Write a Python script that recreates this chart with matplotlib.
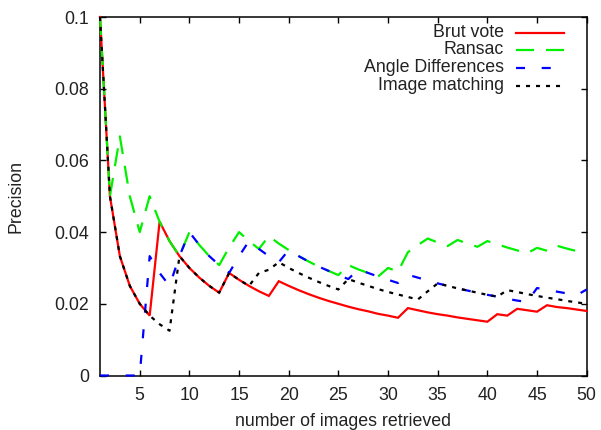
import matplotlib
matplotlib.use("Agg")
import matplotlib.pyplot as plt
from matplotlib.lines import Line2D

plt.rcParams['font.family'] = ['Liberation Sans', 'DejaVu Sans']
plt.rcParams['lines.scale_dashes'] = False

x = list(range(1, 51))

brut_vote = [0.1, 0.05, 0.0333, 0.025, 0.02, 0.0167, 0.0429, 0.0375, 0.0333, 0.03,
             0.0273, 0.025, 0.0231, 0.0286, 0.0267, 0.025, 0.0235, 0.0222, 0.0263, 0.025,
             0.0238, 0.0227, 0.0217, 0.0208, 0.02, 0.0192, 0.0185, 0.0179, 0.0172, 0.0167,
             0.0161, 0.0188, 0.0182, 0.0176, 0.0171, 0.0167, 0.0162, 0.0158, 0.0154, 0.015,
             0.0171, 0.0167, 0.0186, 0.0182, 0.0178, 0.0196, 0.0191, 0.0188, 0.0184, 0.018]

ransac = [0.1, 0.05, 0.0667, 0.05, 0.04, 0.05, 0.0429, 0.0375, 0.0333, 0.04,
          0.0364, 0.0333, 0.0308, 0.0357, 0.04, 0.0375, 0.0353, 0.0389, 0.0368, 0.035,
          0.0333, 0.0318, 0.0304, 0.0292, 0.028, 0.0308, 0.0296, 0.0286, 0.0276, 0.03,
          0.029, 0.0344, 0.0364, 0.0382, 0.0371, 0.0361, 0.0378, 0.0368, 0.0359, 0.0375,
          0.0366, 0.0357, 0.0349, 0.0341, 0.0356, 0.0348, 0.0362, 0.0354, 0.0347, 0.034]

angle_diff = [0.0, 0.0, 0.0, 0.0, 0.0, 0.0333, 0.0286, 0.025, 0.0333, 0.04,
              0.0364, 0.0333, 0.0308, 0.0286, 0.0333, 0.0375, 0.0353, 0.0333, 0.0316, 0.035,
              0.0333, 0.0318, 0.0304, 0.0292, 0.028, 0.0269, 0.0296, 0.0286, 0.0276, 0.0267,
              0.0258, 0.0281, 0.0273, 0.0265, 0.0257, 0.025, 0.0243, 0.0237, 0.0231, 0.0225,
              0.022, 0.0214, 0.0209, 0.0205, 0.0244, 0.0239, 0.0234, 0.0229, 0.0224, 0.024]

image_matching = [0.1, 0.05, 0.0333, 0.025, 0.02, 0.0167, 0.0143, 0.0125, 0.0333, 0.03,
                  0.0273, 0.025, 0.0231, 0.0286, 0.0267, 0.025, 0.0286, 0.0295, 0.0316, 0.03,
                  0.0286, 0.0273, 0.0261, 0.025, 0.024, 0.0269, 0.0259, 0.025, 0.0241, 0.0233,
                  0.0226, 0.0219, 0.0212, 0.0235, 0.0257, 0.025, 0.0243, 0.0237, 0.0231, 0.0225,
                  0.022, 0.0238, 0.0233, 0.0227, 0.0222, 0.0217, 0.0213, 0.0208, 0.0204, 0.02]

labels = ["Brut vote", "Ransac", "Angle Differences", "Image matching"]
colors = ["#ff0000", "#00f000", "#0000ff", "#000000"]
dashes = [None, (13, 8.6), (6.5, 12), (2.9, 4.3)]
series = [brut_vote, ransac, angle_diff, image_matching]

xticks = [5, 10, 15, 20, 25, 30, 35, 40, 45, 50]
yticks = [0, 0.02, 0.04, 0.06, 0.08, 0.1]
ytick_labels = ["0", "0.02", "0.04", "0.06", "0.08", "0.1"]

fig = plt.figure(figsize=(6.01, 4.30), dpi=100)
ax = fig.add_axes([100 / 601, 1 - 375.5 / 430, 486.7 / 601, 358.5 / 430])

lw = 1.6
for vals, c, d in zip(series, colors, dashes):
    line, = ax.plot(x, vals, color=c, lw=lw, clip_on=False, zorder=3,
                    solid_joinstyle='miter', dash_capstyle='butt')
    if d is not None:
        line.set_dashes(d)

ax.set_xlim(1, 50)
ax.set_ylim(0, 0.1)
ax.set_xticks(xticks)
ax.set_yticks(yticks)
ax.set_yticklabels(ytick_labels)
ax.tick_params(direction='in', length=4.5, width=1.0, top=True, right=True,
               labelsize=12.8, pad=8, colors='black', labelcolor='#222222')
for s in ax.spines.values():
    s.set_linewidth(1.1)
    s.set_zorder(2)

ax.set_xlabel("number of images retrieved", fontsize=12.8, labelpad=7, color='#222222')
ax.set_ylabel("Precision", fontsize=12.8, labelpad=21, color='#222222')

# legend (gnuplot style: right-aligned text, sample line to the right)
text_x = (504 - 100) / 486.7
line_x0 = (516 - 100) / 486.7
line_x1 = (564 - 100) / 486.7
rows_y = [32.5, 50, 67.5, 85.5]
for lab, c, d, yy in zip(labels, colors, dashes, rows_y):
    yf = (375.5 - yy) / 358.5
    ax.text(text_x, yf, lab, transform=ax.transAxes, ha='right', va='center',
            fontsize=12.8, color='#222222')
    ln = Line2D([line_x0, line_x1], [yf, yf], transform=ax.transAxes,
                color=c, lw=lw, dash_capstyle='butt')
    if d is not None:
        ln.set_dashes(d)
    ax.add_line(ln)

fig.savefig("out.png", dpi=100)
